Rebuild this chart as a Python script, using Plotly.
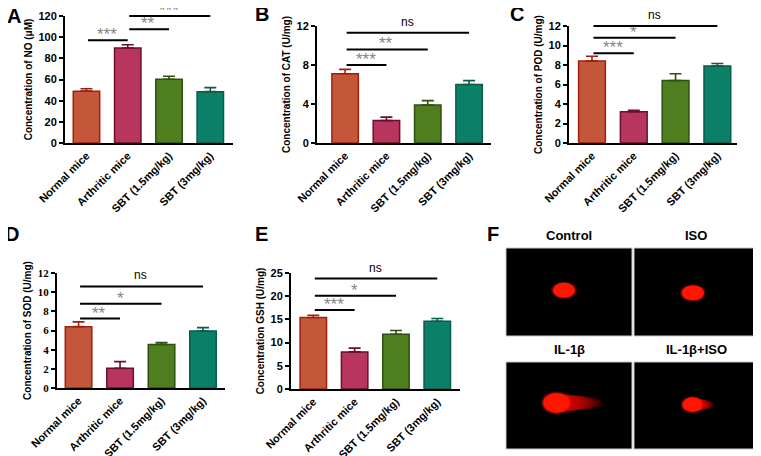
import plotly.graph_objects as go

W, H = 761, 456
OFF = 8  # default body margin of the html page
FW, FH = W - OFF, H - OFF

groups = ["Normal mice", "Arthritic mice", "SBT (1.5mg/kg)", "SBT (3mg/kg)"]

# bar colours: fill and outline
fill_colors = ["#c4573a", "#b8365e", "#4f7e1e", "#0a8068"]
line_colors = ["#a0200f", "#6a0f30", "#2e5010", "#0c5a48"]

# A - NO
no_mean = [49.0, 89.8, 60.2, 48.5]
no_err = [2.3, 3.1, 2.8, 3.8]
no_sig = [(0, 1, 97, "***"), (1, 2, 107.5, "**"), (1, 3, 120, "***")]

# B - CAT
cat_mean = [7.1, 2.3, 3.9, 6.0]
cat_err = [0.45, 0.35, 0.45, 0.4]
cat_sig = [(0, 1, 8.0, "***"), (0, 2, 9.6, "**"), (0, 3, 11.3, "ns")]

# C - POD
pod_mean = [8.4, 3.2, 6.4, 7.9]
pod_err = [0.5, 0.15, 0.7, 0.25]
pod_sig = [(0, 1, 9.2, "***"), (0, 2, 10.8, "*"), (0, 3, 12.0, "ns")]

# D - SOD
sod_mean = [6.4, 2.05, 4.55, 5.95]
sod_err = [0.5, 0.7, 0.2, 0.35]
sod_sig = [(0, 1, 7.25, "**"), (0, 2, 8.8, "*"), (0, 3, 10.6, "ns")]

# E - GSH
gsh_mean = [15.4, 8.0, 11.8, 14.6]
gsh_err = [0.5, 0.8, 0.8, 0.6]
gsh_sig = [(0, 1, 17.0, "***"), (0, 2, 20.1, "*"), (0, 3, 23.8, "ns")]

# F - comet assay images: title, head centre x/y, head radius x/y, tail end x
comet_titles = ["Control", "ISO", "IL-1β", "IL-1β+ISO"]
comet_cx = [0.46, 0.475, 0.40, 0.47]
comet_cy = [0.52, 0.49, 0.53, 0.51]
comet_rx = [0.088, 0.09, 0.105, 0.08]
comet_ry = [0.085, 0.085, 0.115, 0.085]
comet_tail = [0.0, 0.0, 0.78, 0.65]


def px(x):
    return (x - OFF) / FW


def py(y):
    return 1 - (y - OFF) / FH


# name, means, errors, sig bars, y title, y range, tick step, pixel box, x range, tick font
panels = [
    ("A", no_mean, no_err, no_sig, "Concentration of NO (μM)", [0, 120], 20,
     (65, 233, 16, 143), [-0.52, 3.55], "Liberation Sans"),
    ("B", cat_mean, cat_err, cat_sig, "Concentration of CAT (U/mg)", [0, 12], 4,
     (317, 491, 26, 143), [-0.68, 3.53], "Liberation Sans"),
    ("C", pod_mean, pod_err, pod_sig, "Concentration of POD (U/mg)", [0, 12], 2,
     (569, 737, 26, 143), [-0.55, 3.47], "Liberation Sans"),
    ("D", sod_mean, sod_err, sod_sig, "Concentration of SOD (U/mg)", [0, 12], 2,
     (57, 225, 273, 388), [-0.52, 3.53], "Liberation Serif"),
    ("E", gsh_mean, gsh_err, gsh_sig, "Concentration GSH (U/mg)", [0, 25], 5,
     (291, 460, 273, 389), [-0.54, 3.55], "Liberation Sans"),
]

fig = go.Figure()
annotations = []
shapes = []
layout_axes = {}

for i, (name, means, errs, sig, ytitle, yrange, dtick, box, xrange_, tfont) in enumerate(panels):
    n = i + 1
    xa = "x" if n == 1 else f"x{n}"
    ya = "y" if n == 1 else f"y{n}"
    # one trace per bar so each error bar takes its bar's outline colour
    for g in range(len(groups)):
        fig.add_trace(
            go.Bar(
                x=[g],
                y=[means[g]],
                width=0.64,
                marker=dict(color=fill_colors[g], line=dict(color=line_colors[g], width=1.5)),
                error_y=dict(
                    type="data",
                    array=[errs[g]],
                    arrayminus=[0],
                    symmetric=False,
                    color=line_colors[g],
                    thickness=1.6,
                    width=6,
                ),
                xaxis=xa,
                yaxis=ya,
                showlegend=False,
            )
        )
    x0, x1, y0, y1 = box
    layout_axes["xaxis" if n == 1 else f"xaxis{n}"] = dict(
        domain=[px(x0), px(x1)],
        anchor=ya,
        range=xrange_,
        tickvals=list(range(len(groups))),
        ticktext=groups,
        tickangle=-45,
        tickfont=dict(family="Liberation Sans", size=11, color="black", weight="bold"),
        showline=True,
        linecolor="black",
        linewidth=2,
        ticks="",
        showgrid=False,
        zeroline=False,
        automargin=False,
    )
    layout_axes["yaxis" if n == 1 else f"yaxis{n}"] = dict(
        domain=[py(y1), py(y0)],
        anchor=xa,
        range=yrange,
        dtick=dtick,
        tick0=0,
        showline=True,
        linecolor="black",
        linewidth=2,
        ticks="outside",
        ticklen=4,
        tickwidth=2,
        tickcolor="black",
        tickfont=dict(family=tfont, size=11, color="black", weight="bold"),
        title=dict(
            text=ytitle,
            font=dict(family="Liberation Sans", size=10, color="black", weight="bold"),
            standoff=4,
        ),
        showgrid=False,
        zeroline=False,
        automargin=False,
    )
    # significance bars
    for s0, s1, sy, lab in sig:
        annotations.append(
            dict(
                x=s1, y=sy, ax=s0, ay=sy,
                xref=xa, yref=ya, axref=xa, ayref=ya,
                text="", showarrow=True, arrowhead=0, arrowwidth=2,
                arrowcolor="black", standoff=0, startstandoff=0,
            )
        )
        star = lab != "ns"
        annotations.append(
            dict(
                x=(s0 + s1) / 2, y=sy, xref=xa, yref=ya,
                text=lab,
                showarrow=False, yanchor="bottom",
                yshift=-6 if star else 2,
                font=dict(
                    family="Liberation Sans",
                    size=17 if star else 12,
                    color="#858585" if star else "black",
                ),
            )
        )

# panel letters
letters = [("A", 14, 16), ("B", 262, 14), ("C", 517, 14), ("D", 12, 234), ("E", 262, 234), ("F", 493, 234)]
for lab, lx, ly in letters:
    annotations.append(
        dict(
            x=px(lx), y=py(ly), xref="paper", yref="paper", text=lab, showarrow=False,
            xanchor="center", yanchor="middle",
            font=dict(family="Liberation Sans", size=20, color="black", weight="bold"),
        )
    )

# panel F: four image cells
cell_boxes = [(506, 632, 248, 336), (634, 758, 248, 336), (506, 632, 362, 449), (634, 758, 362, 449)]
for k, (bx0, bx1, by0, by1) in enumerate(cell_boxes):
    n = 6 + k
    xa, ya = f"x{n}", f"y{n}"
    layout_axes[f"xaxis{n}"] = dict(domain=[px(bx0), px(bx1)], anchor=ya, range=[0, 1],
                                    visible=False, fixedrange=True, automargin=False)
    layout_axes[f"yaxis{n}"] = dict(domain=[py(by1), py(by0)], anchor=xa, range=[0, 1],
                                    visible=False, fixedrange=True, automargin=False)
    shapes.append(dict(type="rect", xref=f"{xa} domain", yref=f"{ya} domain", x0=0, x1=1, y0=0, y1=1,
                       fillcolor="black", line=dict(color="#c8c8c8", width=1), layer="below"))
    cx, cy, rx, ry, tail = comet_cx[k], comet_cy[k], comet_rx[k], comet_ry[k], comet_tail[k]
    # soft glow around the head
    shapes.append(dict(type="circle", xref=xa, yref=ya, x0=cx - rx * 1.15, x1=cx + rx * 1.15,
                       y0=cy - ry * 1.15, y1=cy + ry * 1.15, fillcolor="rgba(255,20,0,0.35)",
                       line=dict(width=0)))
    if tail > 0:
        # fading comet tail built from stacked translucent ellipses
        steps = 22
        left = cx - rx
        for j in range(steps):
            t = (j + 1) / steps
            right = cx + rx + t * (tail - cx - rx)
            hh = ry * (1.0 - 0.3 * t)
            shapes.append(dict(type="circle", xref=xa, yref=ya, x0=left, x1=right,
                               y0=cy - hh, y1=cy + hh, fillcolor="rgba(255,20,0,0.075)",
                               line=dict(width=0)))
    shapes.append(dict(type="circle", xref=xa, yref=ya, x0=cx - rx, x1=cx + rx,
                       y0=cy - ry, y1=cy + ry, fillcolor="rgb(255,22,0)", line=dict(width=0)))
    annotations.append(
        dict(x=0.5, y=1, xref=f"{xa} domain", yref=f"{ya} domain", text=comet_titles[k],
             showarrow=False, yanchor="bottom", yshift=3,
             font=dict(family="Liberation Sans", size=13, color="black", weight="bold"))
    )

fig.update_layout(
    width=FW,
    height=FH,
    margin=dict(l=0, r=0, t=0, b=0),
    paper_bgcolor="white",
    plot_bgcolor="rgba(0,0,0,0)",
    annotations=annotations,
    shapes=shapes,
    **layout_axes,
)

fig.write_html("out.html")
